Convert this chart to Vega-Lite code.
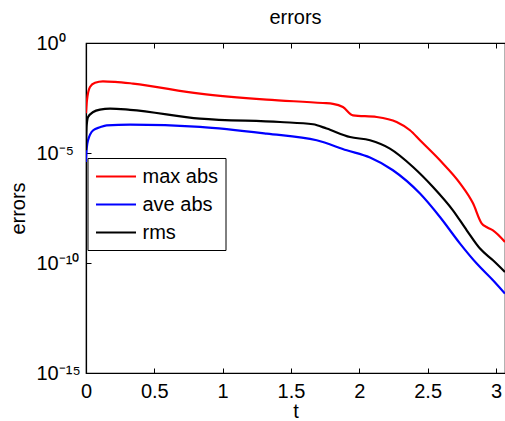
{
  "$schema": "https://vega.github.io/schema/vega-lite/v6.json",
  "width": 419,
  "height": 330,
  "autosize": {"type": "none"},
  "padding": {"left": 86, "top": 43, "right": 0, "bottom": 48},
  "background": "white",
  "config": {
    "font": "Liberation Sans",
    "view": {"stroke": "black", "strokeWidth": 1.2},
    "axis": {"grid": false, "domainColor": "black", "tickColor": "black", "labelColor": "black", "titleColor": "black", "labelFont": "Liberation Sans", "titleFont": "Liberation Sans", "labelFontSize": 20, "titleFontSize": 20, "titleFontWeight": "normal", "tickSize": -5, "domainWidth": 1.2, "tickWidth": 1}
  },
  "title": {"text": "errors", "fontSize": 20, "fontWeight": "normal", "font": "Liberation Sans", "color": "black", "offset": 5},
  "data": {"values": [
    {"t": 0.0, "err": 6.38e-4, "s": "max abs"},
    {"t": 0.007, "err": 2.48e-3, "s": "max abs"},
    {"t": 0.029, "err": 1.0e-2, "s": "max abs"},
    {"t": 0.066, "err": 1.55e-2, "s": "max abs"},
    {"t": 0.124, "err": 1.82e-2, "s": "max abs"},
    {"t": 0.212, "err": 1.72e-2, "s": "max abs"},
    {"t": 0.344, "err": 1.43e-2, "s": "max abs"},
    {"t": 0.834, "err": 5.0e-3, "s": "max abs"},
    {"t": 1.322, "err": 2.67e-3, "s": "max abs"},
    {"t": 1.734, "err": 1.87e-3, "s": "max abs"},
    {"t": 1.807, "err": 1.72e-3, "s": "max abs"},
    {"t": 1.880, "err": 1.23e-3, "s": "max abs"},
    {"t": 1.954, "err": 5.17e-4, "s": "max abs"},
    {"t": 2.127, "err": 4.33e-4, "s": "max abs"},
    {"t": 2.273, "err": 2.56e-4, "s": "max abs"},
    {"t": 2.371, "err": 1.08e-4, "s": "max abs"},
    {"t": 2.444, "err": 3.78e-5, "s": "max abs"},
    {"t": 2.590, "err": 4.66e-6, "s": "max abs"},
    {"t": 2.737, "err": 4.2e-7, "s": "max abs"},
    {"t": 2.832, "err": 5.18e-8, "s": "max abs"},
    {"t": 2.895, "err": 6.38e-9, "s": "max abs"},
    {"t": 2.934, "err": 4.2e-9, "s": "max abs"},
    {"t": 2.978, "err": 3.06e-9, "s": "max abs"},
    {"t": 3.066, "err": 9.0e-10, "s": "max abs"},
    {"t": 0.0, "err": 3.9e-6, "s": "ave abs"},
    {"t": 0.005, "err": 1.58e-5, "s": "ave abs"},
    {"t": 0.015, "err": 3.78e-5, "s": "ave abs"},
    {"t": 0.053, "err": 1.08e-4, "s": "ave abs"},
    {"t": 0.102, "err": 1.47e-4, "s": "ave abs"},
    {"t": 0.151, "err": 1.82e-4, "s": "ave abs"},
    {"t": 0.322, "err": 1.95e-4, "s": "ave abs"},
    {"t": 0.834, "err": 1.55e-4, "s": "ave abs"},
    {"t": 1.322, "err": 7.62e-5, "s": "ave abs"},
    {"t": 1.688, "err": 3.78e-5, "s": "ave abs"},
    {"t": 1.908, "err": 1.33e-5, "s": "ave abs"},
    {"t": 2.078, "err": 6.18e-6, "s": "ave abs"},
    {"t": 2.246, "err": 1.64e-6, "s": "ave abs"},
    {"t": 2.444, "err": 1.43e-7, "s": "ave abs"},
    {"t": 2.590, "err": 1.23e-8, "s": "ave abs"},
    {"t": 2.737, "err": 7.62e-10, "s": "ave abs"},
    {"t": 2.859, "err": 9.4e-11, "s": "ave abs"},
    {"t": 2.978, "err": 1.64e-11, "s": "ave abs"},
    {"t": 3.066, "err": 4.06e-12, "s": "ave abs"},
    {"t": 0.0, "err": 1.33e-5, "s": "rms"},
    {"t": 0.005, "err": 1.82e-4, "s": "rms"},
    {"t": 0.015, "err": 4.33e-4, "s": "rms"},
    {"t": 0.053, "err": 7.3e-4, "s": "rms"},
    {"t": 0.102, "err": 9.4e-4, "s": "rms"},
    {"t": 0.176, "err": 1.04e-3, "s": "rms"},
    {"t": 0.322, "err": 9.2e-4, "s": "rms"},
    {"t": 0.834, "err": 3.66e-4, "s": "rms"},
    {"t": 1.420, "err": 2.56e-4, "s": "rms"},
    {"t": 1.661, "err": 2.02e-4, "s": "rms"},
    {"t": 1.761, "err": 1.29e-4, "s": "rms"},
    {"t": 1.932, "err": 5.33e-5, "s": "rms"},
    {"t": 2.078, "err": 3.78e-5, "s": "rms"},
    {"t": 2.224, "err": 1.58e-5, "s": "rms"},
    {"t": 2.393, "err": 2.31e-6, "s": "rms"},
    {"t": 2.539, "err": 2.85e-7, "s": "rms"},
    {"t": 2.685, "err": 2.48e-8, "s": "rms"},
    {"t": 2.786, "err": 3.06e-9, "s": "rms"},
    {"t": 2.883, "err": 4.52e-10, "s": "rms"},
    {"t": 2.978, "err": 1.33e-10, "s": "rms"},
    {"t": 3.066, "err": 3.9e-11, "s": "rms"}
  ]},
  "layer": [
    {
      "mark": {"type": "line", "strokeWidth": 2.2, "interpolate": "monotone", "clip": true},
      "encoding": {
        "x": {"field": "t", "type": "quantitative", "scale": {"domain": [0, 3.066], "nice": false, "zero": false},
              "axis": {"values": [0, 0.5, 1, 1.5, 2, 2.5, 3], "format": "~g", "title": "t", "labelPadding": 13, "titlePadding": 0, "labelFlush": false, "labelOverlap": false}},
        "y": {"field": "err", "type": "quantitative", "scale": {"type": "log", "domain": [1e-15, 1], "nice": false},
              "axis": {"values": [1e-15, 1e-10, 1e-5, 1], "title": "errors", "titlePadding": 8, "labelAlign": "left", "labelPadding": 55, "labelFlush": false, "labelOverlap": false,
                       "labelExpr": "datum.value >= 0.5 ? '10⁰' : datum.value >= 1e-6 ? '10⁻⁵' : datum.value >= 1e-11 ? '10⁻¹⁰' : '10⁻¹⁵'"}},
        "color": {"field": "s", "type": "nominal", "sort": ["max abs", "ave abs", "rms"],
                  "scale": {"domain": ["max abs", "ave abs", "rms"], "range": ["#ff0000", "#0000ff", "#000000"]},
                  "legend": {"title": null, "orient": "none", "legendX": 1.5, "legendY": 115, "strokeColor": "black", "fillColor": "white", "padding": 7,
                             "symbolType": "M-1,0H3", "symbolSize": 400, "symbolStrokeWidth": 2.2, "labelFontSize": 20, "labelFont": "Liberation Sans", "labelColor": "black", "labelOffset": 25, "rowPadding": 6}}
      }
    },
    {
      "mark": {"type": "line", "opacity": 0},
      "encoding": {
        "x": {"field": "t", "type": "quantitative", "axis": {"orient": "top", "values": [0, 0.5, 1, 1.5, 2, 2.5, 3], "labels": false, "title": null}},
        "y": {"field": "err", "type": "quantitative"},
        "detail": {"field": "s"}
      }
    }
  ],
  "resolve": {"axis": {"x": "independent"}}
}
